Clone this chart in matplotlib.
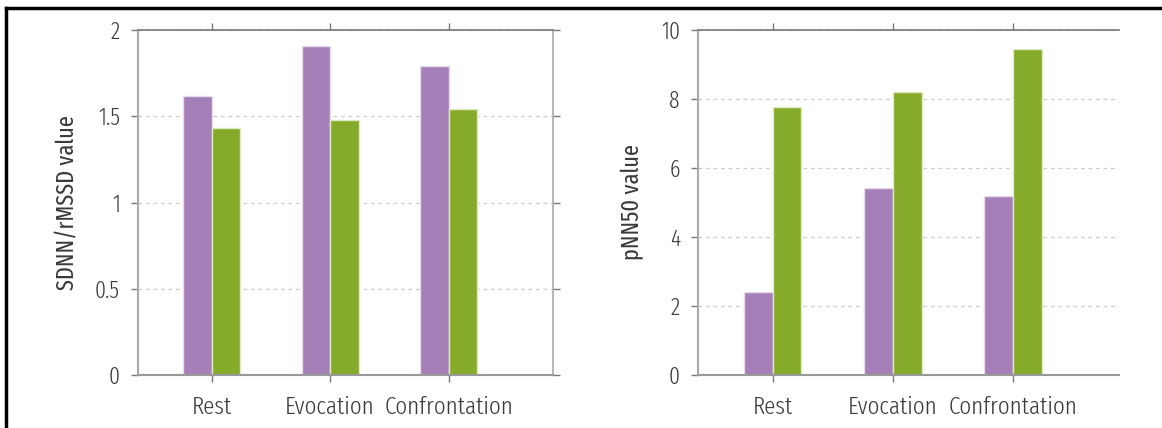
import matplotlib
matplotlib.use("Agg")
import matplotlib.pyplot as plt
import numpy as np
from matplotlib.lines import Line2D

# ----- data ---------------------------------------------------------------
categories = ["Rest", "Evocation", "Confrontation"]
sdnn_purple = [1.62, 1.91, 1.79]
sdnn_green = [1.43, 1.48, 1.54]
pnn_purple = [2.42, 5.42, 5.20]
pnn_green = [7.76, 8.20, 9.45]

PURPLE = "#a47fb8"
GREEN = "#86ab2a"
TEXT = "#3a3a3a"

plt.rcParams["font.family"] = ["Fira Sans Extra Condensed", "Fira Sans Condensed",
                               "DejaVu Sans"]
plt.rcParams["font.weight"] = 300

fig = plt.figure(figsize=(11.62, 4.28), dpi=100)
ax1 = fig.add_axes([138 / 1162, 1 - 375 / 428, 415 / 1162, 345 / 428])
ax2 = fig.add_axes([698 / 1162, 1 - 375 / 428, 421 / 1162, 345 / 428])

x = np.arange(len(categories))
w = 0.24


def draw(ax, purple, green, ylim, yticks, ylabel, right_spine):
    ax.bar(x - w / 2, purple, w, color=PURPLE, edgecolor="#e6dcec", linewidth=1.0)
    ax.bar(x + w / 2, green, w, color=GREEN, edgecolor="#dfe9c4", linewidth=1.0)
    ax.set_xlim(-0.62, 2.88)
    ax.set_ylim(*ylim)
    ax.set_yticks(yticks)
    ax.set_yticklabels([f"{t:g}" for t in yticks])
    ax.set_xticks(x)
    ax.set_xticklabels(categories)
    ax.tick_params(axis="x", which="both", top=True, direction="out",
                   length=5, width=1, color="#777777", labelsize=18,
                   labelcolor=TEXT, pad=10)
    ax.tick_params(axis="y", direction="out", length=5, width=1,
                   color="#777777", labelsize=17, labelcolor=TEXT, pad=8,
                   right=right_spine)
    ax.yaxis.grid(True, linestyle=(0, (3, 3)), color="#cccccc", linewidth=0.9)
    ax.set_axisbelow(True)
    ax.set_ylabel(ylabel, fontsize=17.5, color=TEXT, labelpad=12)
    ax.spines["left"].set_color("#aaaaaa")
    ax.spines["left"].set_linewidth(1.5)
    ax.spines["bottom"].set_color("#999999")
    ax.spines["bottom"].set_linewidth(1.5)
    ax.spines["top"].set_color("#777777")
    ax.spines["top"].set_linewidth(1.2)
    ax.spines["right"].set_color("#aaaaaa")
    ax.spines["right"].set_linewidth(1.2)
    ax.spines["right"].set_visible(right_spine)


draw(ax1, sdnn_purple, sdnn_green, (0, 2), [0, 0.5, 1, 1.5, 2],
     "SDNN/rMSSD value", True)
draw(ax2, pnn_purple, pnn_green, (0, 10), [0, 2, 4, 6, 8, 10],
     "pNN50 value", False)

# black frame around the figure (only left and top are visible in the crop)
fig.add_artist(Line2D([6 / 1162, 6 / 1162], [0, 1 - 8 / 428],
                      transform=fig.transFigure, color="black", linewidth=2.5))
fig.add_artist(Line2D([6 / 1162, 1], [1 - 8 / 428, 1 - 8 / 428],
                      transform=fig.transFigure, color="black", linewidth=2.5))

fig.savefig("out.png", dpi=100)
